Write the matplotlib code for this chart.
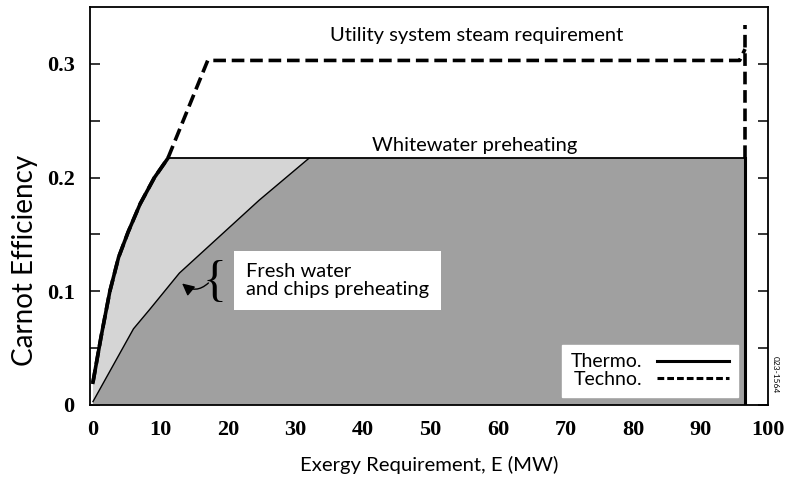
import numpy as np
import matplotlib
matplotlib.use("Agg")
import matplotlib.pyplot as plt
from matplotlib.lines import Line2D

# ── Data ─────────────────────────────────────────────────────
thermo_x = [0, 1.2, 2.5, 3.8, 5.2, 7, 9.1, 11.1]
thermo_y = [0.02, 0.06, 0.100, 0.130, 0.152, 0.177, 0.200, 0.217]

techno_x = [0, 1.2, 2.5, 3.8, 5.2, 7, 9.1, 11.1, 17, 95.8, 96.6]
techno_y = [0.02, 0.06, 0.100, 0.130, 0.152, 0.177, 0.200, 0.217, 0.303, 0.303, 0.313]

fresh_x = [0, 6, 8.4, 12.8, 24.6, 32]
fresh_y = [0.003, 0.067, 0.084, 0.116, 0.180, 0.217]

plateau_y = 0.217      # whitewater preheating level
e_total = 96.6         # total exergy requirement
techno_top = 0.334

LIGHT = "#d5d5d5"
DARK = "#a0a0a0"
SANS = ["Lato", "DejaVu Sans"]
SERIF = ["Liberation Serif", "DejaVu Serif"]

fig = plt.figure(figsize=(7.86, 4.80), dpi=100)
ax = fig.add_axes([90 / 786, 75 / 480, 678 / 786, 398 / 480])

# ── Filled regions ───────────────────────────────────────────
lx = [0] + thermo_x + [e_total, e_total]
ly = [0] + thermo_y + [plateau_y, 0]
ax.fill(lx, ly, color=LIGHT, lw=0, zorder=1)

dx = [0] + fresh_x + [e_total, e_total]
dy = [0] + fresh_y + [plateau_y, 0]
ax.fill(dx, dy, color=DARK, lw=0, zorder=2)
ax.plot(fresh_x, fresh_y, color="k", lw=1.0, zorder=3)

# ── Composite curves ─────────────────────────────────────────
ax.plot(thermo_x, thermo_y, color="k", lw=2.6, zorder=4)
ax.plot([thermo_x[-1], e_total], [plateau_y, plateau_y], color="k", lw=1.3, zorder=4)
ax.plot([e_total, e_total], [0, plateau_y], color="k", lw=2.2, zorder=4)

ax.plot(techno_x, techno_y, color="k", lw=2.6, dashes=(3.5, 1.6), zorder=5)
ax.plot([e_total, e_total], [plateau_y, techno_top], color="k", lw=2.6,
        dashes=(3.5, 1.6), zorder=5)

# ── Annotations ──────────────────────────────────────────────
ax.text(56.8, 0.325, "Utility system steam requirement", family=SANS,
        fontsize=14.5, ha="center", va="center")
ax.text(56.6, 0.2285, "Whitewater preheating", family=SANS,
        fontsize=14.5, ha="center", va="center")
ax.text(22.7, 0.1095, "Fresh water\nand chips preheating", family=SANS,
        fontsize=14.5, ha="left", va="center", linespacing=1.1,
        bbox=dict(boxstyle="square,pad=0.6", fc="white", ec="none"), zorder=6)
ax.text(18.0, 0.1075, "{", family=SERIF, fontsize=36,
        ha="center", va="center", zorder=6)
ax.annotate("", xy=(12.9, 0.1085), xytext=(17.4, 0.109),
            arrowprops=dict(arrowstyle="-|>", color="k", lw=1.0,
                            mutation_scale=18,
                            connectionstyle="arc3,rad=-0.5"), zorder=6)

# ── Legend ───────────────────────────────────────────────────
handles = [Line2D([], [], color="k", lw=2.2),
           Line2D([], [], color="k", lw=2.2, dashes=(2.2, 1.0))]
leg = ax.legend(handles, ["Thermo.", "Techno."], loc="lower right",
                bbox_to_anchor=(0.956, 0.02), borderaxespad=0,
                markerfirst=False, handlelength=3.7, handletextpad=0.8,
                labelspacing=0.05, borderpad=0.45, fancybox=False,
                framealpha=1, edgecolor="white", prop=dict(family=SANS, size=14))
leg.set_zorder(7)

# ── Axes ─────────────────────────────────────────────────────
ax.set_xlim(-0.44, 99.26)
ax.set_ylim(0, 0.35)
ax.set_xticks(np.arange(0, 101, 10))
ax.set_yticks([0, 0.1, 0.2, 0.3])
ax.set_yticks(np.arange(0.05, 0.35, 0.1), minor=True)
ax.set_yticklabels(["0", "0.1", "0.2", "0.3"])
ax.tick_params(axis="x", length=0, pad=11, labelsize=16)
ax.tick_params(axis="y", which="both", direction="in", length=7, width=1.1,
               right=True, pad=11, labelsize=16)
for lab in ax.get_xticklabels() + ax.get_yticklabels():
    lab.set_family(SERIF)
    lab.set_fontweight("bold")
for s in ax.spines.values():
    s.set_linewidth(1.3)

ax.set_xlabel("Exergy Requirement, E (MW)", family=SANS, fontsize=14.6)
ax.set_ylabel("Carnot Efficiency", family=SANS, fontsize=20)
ax.xaxis.set_label_coords(0.5, -0.128)
ax.yaxis.set_label_coords(-0.077, 0.362)

fig.text(0.986, 0.219, "023-1564", family=SANS, fontsize=6, rotation=-90,
         ha="center", va="center")

fig.savefig("out.png", dpi=100)
